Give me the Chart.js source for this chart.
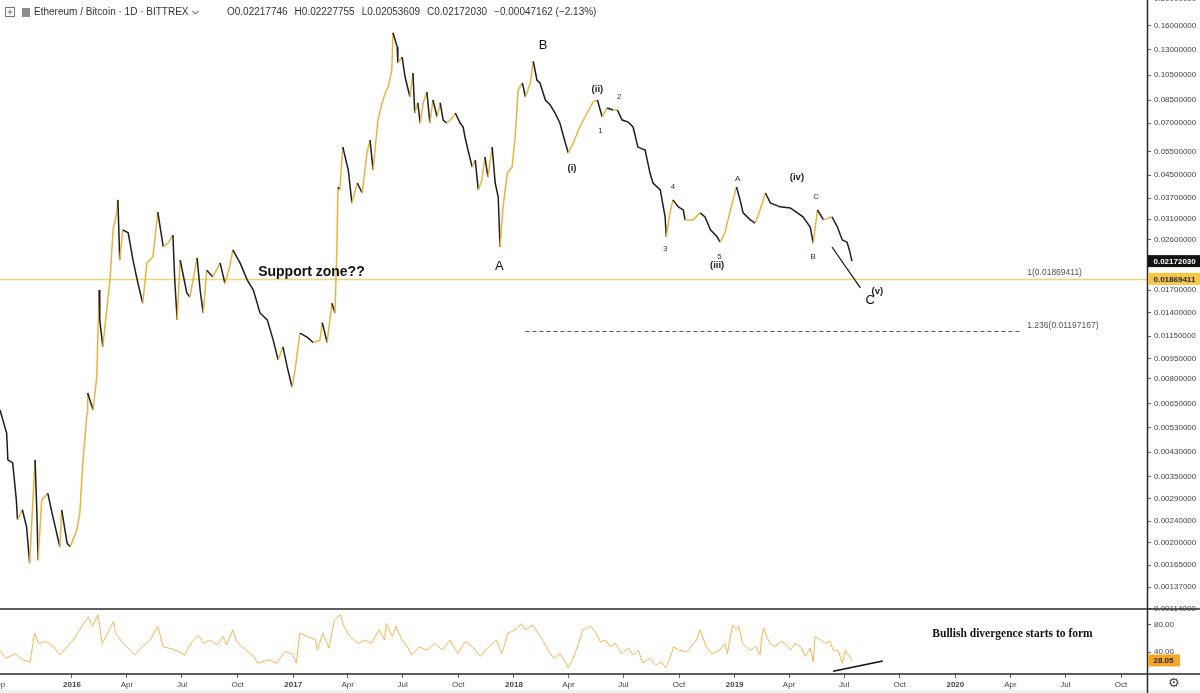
<!DOCTYPE html>
<html><head><meta charset="utf-8">
<script src="https://cdn.jsdelivr.net/npm/chart.js@4.4.1/dist/chart.umd.min.js"></script>
<style>html,body{margin:0;padding:0;background:#fff;}#wrap{position:relative;width:1200px;height:693px;}canvas{display:block}</style>
</head><body><div id="wrap"><canvas id="c"></canvas></div>
<script>
// ---------- DATA ----------
const priceDates = ['2015-09-04','2015-09-15','2015-09-17','2015-09-25','2015-10-01','2015-10-03','2015-10-11','2015-10-18','2015-10-23','2015-11-01','2015-11-04','2015-11-06','2015-11-12','2015-11-22','2015-11-29','2015-12-12','2015-12-15','2015-12-24','2015-12-29',
'2016-01-09','2016-01-14','2016-01-19','2016-01-26','2016-01-27','2016-02-05','2016-02-11','2016-02-15','2016-02-16','2016-02-21','2016-02-28','2016-03-04','2016-03-09','2016-03-15','2016-03-17','2016-03-20','2016-03-25','2016-04-03','2016-04-11','2016-04-18','2016-04-27','2016-05-04','2016-05-14','2016-05-22','2016-05-31','2016-06-08','2016-06-16','2016-06-19','2016-06-23','2016-06-28','2016-07-09','2016-07-14','2016-07-26','2016-07-31','2016-08-05','2016-08-11','2016-08-21','2016-09-02','2016-09-10','2016-09-18','2016-09-23','2016-10-05','2016-10-17','2016-10-27','2016-11-07','2016-11-19','2016-11-29','2016-12-07','2016-12-15','2016-12-22','2016-12-30',
'2017-01-04','2017-01-12','2017-01-24','2017-02-03','2017-02-14','2017-02-18','2017-02-26','2017-03-06','2017-03-11','2017-03-14','2017-03-16','2017-03-19','2017-03-24','2017-04-02','2017-04-08','2017-04-17','2017-04-25','2017-05-03','2017-05-08','2017-05-13','2017-05-21','2017-05-28','2017-06-02','2017-06-07','2017-06-13',
'2017-06-15','2017-06-22','2017-06-23','2017-06-30','2017-07-05','2017-07-13','2017-07-18','2017-07-21','2017-07-26','2017-07-30','2017-08-04','2017-08-10','2017-08-15','2017-08-20','2017-08-27','2017-09-01','2017-09-06','2017-09-12','2017-09-21','2017-09-26','2017-10-04','2017-10-09','2017-10-12','2017-10-17','2017-10-24','2017-10-29','2017-11-03','2017-11-09','2017-11-14','2017-11-19','2017-11-26','2017-12-01','2017-12-06','2017-12-09','2017-12-14','2017-12-21','2017-12-29',
'2018-01-03','2018-01-08','2018-01-15','2018-01-20','2018-01-28','2018-02-02','2018-02-08','2018-02-13','2018-02-22','2018-03-02','2018-03-10','2018-03-18','2018-03-27','2018-04-01','2018-04-09','2018-04-20','2018-05-02','2018-05-12','2018-05-19','2018-05-27','2018-06-04','2018-06-14','2018-06-21','2018-06-29','2018-07-09','2018-07-17','2018-07-25','2018-08-06','2018-08-14','2018-08-19','2018-08-31','2018-09-08','2018-09-10','2018-09-16','2018-09-21','2018-09-30','2018-10-08','2018-10-11','2018-10-24','2018-11-05','2018-11-13','2018-11-22','2018-12-03','2018-12-08','2018-12-16','2018-12-21','2018-12-28',
'2019-01-04','2019-01-10','2019-01-15','2019-01-27','2019-02-04','2019-02-12','2019-02-21','2019-03-01','2019-03-17','2019-04-03','2019-04-15','2019-04-24','2019-05-06','2019-05-11','2019-05-18','2019-05-28','2019-06-11','2019-06-20','2019-06-28','2019-07-06','2019-07-11','2019-07-14'];

const priceCloses = [0.00615,0.00506,0.00403,0.00393,0.00287,0.00242,0.00264,0.00228,0.00168,0.00403,0.00257,0.00172,0.00287,0.00304,0.00257,0.00193,0.00264,0.00199,0.00193,
0.00222,0.00257,0.00393,0.00600,0.00710,0.00615,0.00814,0.0170,0.0132,0.0105,0.0147,0.0185,0.0283,0.0327,0.0365,0.0219,0.0283,0.0276,0.0219,0.0185,0.0152,0.0214,0.0225,0.0329,0.0245,0.0253,0.0271,0.0185,0.0132,0.0219,0.0166,0.0160,0.0223,0.0170,0.0140,0.0201,0.0190,0.0214,0.0180,0.0207,0.0239,0.0214,0.0185,0.0170,0.0140,0.0132,0.0111,0.00940,0.0105,0.00886,0.00747,
0.00864,0.0118,0.0114,0.0109,0.0111,0.0129,0.0109,0.0152,0.0140,0.0233,0.0407,0.0397,0.0571,0.0470,0.0356,0.0421,0.0387,0.0543,0.0606,0.0470,0.0718,0.0830,0.0903,0.0950,0.1097,
0.1505,0.1333,0.1164,0.1225,0.1034,0.0873,0.1070,0.0762,0.0830,0.0700,0.0830,0.0911,0.0700,0.0851,0.0737,0.0830,0.0718,0.0700,0.0731,0.0762,0.0700,0.0677,0.0622,0.0557,0.0482,0.0512,0.0397,0.0432,0.0525,0.0443,0.0571,0.0421,0.0374,0.0245,0.0344,0.0458,0.0482,
0.0622,0.0926,0.0983,0.0873,0.0983,0.1180,0.1008,0.0983,0.0851,0.0816,0.0762,0.0700,0.0591,0.0543,0.0591,0.0677,0.0762,0.0837,0.0851,0.0737,0.0795,0.0782,0.0782,0.0718,0.0706,0.0677,0.0571,0.0557,0.0458,0.0421,0.0397,0.0316,0.0267,0.0327,0.0365,0.0344,0.0335,0.0308,0.0308,0.0327,0.0316,0.0283,0.0267,0.0255,0.0276,0.0308,0.0356,
0.0407,0.0365,0.0327,0.0308,0.0300,0.0335,0.0387,0.0356,0.0344,0.0341,0.0327,0.0316,0.0290,0.0253,0.0335,0.0308,0.0316,0.0290,0.0260,0.0255,0.0233,0.02172030];

const rsiDates = ['2015-09-04','2015-09-13','2015-09-29','2015-10-11','2015-10-24','2015-10-31','2015-11-07','2015-11-19','2015-12-02','2015-12-12',
'2016-01-03','2016-01-19','2016-01-28','2016-02-04','2016-02-13','2016-02-20','2016-03-10','2016-03-13','2016-03-26','2016-04-14','2016-04-26','2016-05-09','2016-05-22','2016-05-31','2016-06-10','2016-06-26','2016-07-05','2016-07-18','2016-07-28','2016-08-06','2016-08-16','2016-08-28','2016-09-07','2016-09-13','2016-09-23','2016-09-29','2016-10-15','2016-10-28','2016-11-03','2016-11-22','2016-12-05','2016-12-18','2016-12-30',
'2017-01-06','2017-01-12','2017-01-25','2017-02-07','2017-02-10','2017-02-19','2017-03-01','2017-03-10','2017-03-20','2017-03-26','2017-04-05','2017-04-18','2017-04-30','2017-05-10','2017-05-23','2017-06-01','2017-06-04','2017-06-14','2017-06-20','2017-06-30','2017-07-09','2017-07-16','2017-07-28','2017-08-10','2017-08-23','2017-09-05','2017-09-17','2017-09-30','2017-10-13','2017-10-26','2017-11-07','2017-11-20','2017-12-03','2017-12-12','2017-12-22',
'2018-01-04','2018-01-13','2018-01-20','2018-02-01','2018-02-14','2018-02-27','2018-03-08','2018-03-18','2018-03-27','2018-04-01','2018-04-09','2018-04-18','2018-04-25','2018-05-08','2018-05-17','2018-05-24','2018-06-02','2018-06-09','2018-06-18','2018-06-28','2018-07-10','2018-07-17','2018-07-26','2018-08-02','2018-08-14','2018-08-24','2018-09-02','2018-09-09','2018-09-15','2018-09-22','2018-10-01','2018-10-14','2018-10-30','2018-11-05','2018-11-15','2018-11-24','2018-12-07','2018-12-16','2018-12-20','2018-12-26','2018-12-29',
'2019-01-04','2019-01-08','2019-01-14','2019-01-27','2019-02-05','2019-02-12','2019-02-15','2019-02-18','2019-02-21','2019-02-28','2019-03-09','2019-03-19','2019-03-26','2019-04-03','2019-04-11','2019-04-20','2019-04-28','2019-05-06','2019-05-11','2019-05-14','2019-05-23','2019-05-31','2019-06-08','2019-06-13','2019-06-21','2019-06-28','2019-07-03','2019-07-08','2019-07-14'];

const rsiValues = [43,31,38,29,26,68,53,56,48,36,
58,80,92,78,95,53,85,68,53,36,48,58,78,48,46,41,36,56,65,53,58,51,63,51,73,56,43,34,24,29,24,41,38,
24,68,63,58,43,68,46,87,95,78,63,53,58,53,73,58,82,63,78,58,48,36,48,43,53,43,58,38,56,46,34,48,58,38,68,
73,82,73,80,63,43,31,38,26,17,31,53,73,78,68,55,58,48,53,38,46,36,43,24,31,21,26,17,29,48,43,41,58,73,48,38,43,53,38,68,80,
73,78,53,43,48,36,63,75,68,53,48,56,53,43,53,48,34,46,26,63,58,53,56,43,43,24,43,36,28.05];

const timeTickDates = ['2015-09-01','2016-01-01','2016-04-01','2016-07-01','2016-10-01','2017-01-01','2017-04-01','2017-07-01','2017-10-01','2018-01-01','2018-04-01','2018-07-01','2018-10-01','2019-01-01','2019-04-01','2019-07-01','2019-10-01','2020-01-01','2020-04-01','2020-07-01','2020-10-01'];
const timeTickLabels = ['Sep','2016','Apr','Jul','Oct','2017','Apr','Jul','Oct','2018','Apr','Jul','Oct','2019','Apr','Jul','Oct','2020','Apr','Jul','Oct'];
const priceTicks = [0.2,0.16,0.13,0.105,0.085,0.07,0.055,0.045,0.037,0.031,0.026,0.017,0.014,0.0115,0.0095,0.008,0.0065,0.0053,0.0043,0.0035,0.0029,0.0024,0.002,0.00165,0.00137,0.00114];
const rsiTicks = [80,40];

const lastClose = 0.02172030;
const lastRsi = 28.05;
const fibLevels = [{ratio:'1', price:0.01869411}, {ratio:'1.236', price:0.01197167}];

const headerTitle = 'Ethereum / Bitcoin · 1D · BITTREX';
const headerOHLC = ['O0.02217746','H0.02227755','L0.02053609','C0.02172030','\u22120.00047162 (\u22122.13%)'];

// annotations (anchored in data units)
const waveLabels = [
  {t:'Support zone??', d:'2016-11-04', p:0.0198, kind:'big-bold', align:'left'},
  {t:'A', d:'2017-12-08', p:0.02085, kind:'big'},
  {t:'B', d:'2018-02-18', p:0.1356, kind:'big'},
  {t:'(i)', d:'2018-04-07', p:0.0478, kind:'paren'},
  {t:'(ii)', d:'2018-05-19', p:0.0934, kind:'paren'},
  {t:'1', d:'2018-05-24', p:0.0654, kind:'small'},
  {t:'2', d:'2018-06-24', p:0.0873, kind:'small'},
  {t:'3', d:'2018-09-08', p:0.0241, kind:'small'},
  {t:'4', d:'2018-09-21', p:0.0407, kind:'small'},
  {t:'5', d:'2018-12-07', p:0.0226, kind:'small'},
  {t:'(iii)', d:'2018-12-03', p:0.0209, kind:'paren'},
  {t:'A', d:'2019-01-06', p:0.0438, kind:'small'},
  {t:'(iv)', d:'2019-04-14', p:0.0442, kind:'paren'},
  {t:'C', d:'2019-05-16', p:0.0375, kind:'small'},
  {t:'B', d:'2019-05-11', p:0.0225, kind:'small'},
  {t:'(v)', d:'2019-08-25', p:0.01677, kind:'paren'},
  {t:'C', d:'2019-08-13', p:0.01563, kind:'big'}
];
const waveLine = {d0:'2019-06-11', p0:0.02448, d1:'2019-07-28', p1:0.01730};
const fibDashStart = '2018-01-20', fibDashEnd = '2020-04-19', fibLabelDate = '2020-04-29';
const divergenceLine = {d0:'2019-06-13', r0:12.2, d1:'2019-09-03', r1:27.3};
const divergenceNote = {t:'Bullish divergence starts to form', d:'2019-11-24', r:66.8};
const axisStart = '2015-09-04', axisEnd = '2020-11-13';

// ---------- CHART ----------
const dayOf = s => { const [Y,M,D] = s.split('-').map(Number); return (Date.UTC(Y,M-1,D) - Date.UTC(2016,0,1)) / 86400000; };
const SANS = '"Liberation Sans", Arial, sans-serif';
const GOLD = '#e8b341', DARK = '#1e1e1e';

const overlay = {
  id: 'overlay',
  beforeDatasetsDraw(chart) {
    const {ctx, chartArea: a, scales: {x, y}} = chart;
    ctx.save();
    const fy = Math.round(y.getPixelForValue(fibLevels[0].price)) + 0.5;
    ctx.strokeStyle = '#f2d37a'; ctx.lineWidth = 1.3;
    ctx.beginPath(); ctx.moveTo(a.left, fy); ctx.lineTo(a.right, fy); ctx.stroke();
    const dy = Math.round(y.getPixelForValue(fibLevels[1].price)) + 0.5;
    ctx.strokeStyle = '#555'; ctx.lineWidth = 1; ctx.setLineDash([4, 3]);
    ctx.beginPath(); ctx.moveTo(x.getPixelForValue(dayOf(fibDashStart)), dy); ctx.lineTo(x.getPixelForValue(dayOf(fibDashEnd)), dy); ctx.stroke();
    ctx.restore();
  },
  afterDatasetsDraw(chart) {
    const {ctx, scales: {x, y, rsi}} = chart;
    ctx.save();
    ctx.textBaseline = 'middle';
    for (const w of waveLabels) {
      const px = x.getPixelForValue(dayOf(w.d)), py = y.getPixelForValue(w.p);
      ctx.textAlign = w.align || 'center';
      ctx.fillStyle = '#111';
      if (w.kind === 'big-bold') ctx.font = 'bold 14px ' + SANS;
      else if (w.kind === 'big') ctx.font = '13px ' + SANS;
      else if (w.kind === 'paren') { ctx.font = 'bold 9.5px ' + SANS; ctx.fillStyle = '#222'; }
      else { ctx.font = '8px ' + SANS; ctx.fillStyle = '#333'; }
      ctx.fillText(w.t, px, py);
    }
    ctx.font = '8.5px ' + SANS; ctx.fillStyle = '#555'; ctx.textAlign = 'left';
    const lx = x.getPixelForValue(dayOf(fibLabelDate));
    for (const f of fibLevels) {
      ctx.fillText(f.ratio + '(' + f.price.toFixed(8) + ')', lx, y.getPixelForValue(f.price) - 6);
    }
    ctx.strokeStyle = '#111'; ctx.lineWidth = 1.2;
    ctx.beginPath();
    ctx.moveTo(x.getPixelForValue(dayOf(waveLine.d0)), y.getPixelForValue(waveLine.p0));
    ctx.lineTo(x.getPixelForValue(dayOf(waveLine.d1)), y.getPixelForValue(waveLine.p1));
    ctx.stroke();
    ctx.lineWidth = 1.6;
    ctx.beginPath();
    ctx.moveTo(x.getPixelForValue(dayOf(divergenceLine.d0)), rsi.getPixelForValue(divergenceLine.r0));
    ctx.lineTo(x.getPixelForValue(dayOf(divergenceLine.d1)), rsi.getPixelForValue(divergenceLine.r1));
    ctx.stroke();
    ctx.font = 'bold 11.5px "Liberation Serif", "Times New Roman", serif';
    ctx.fillStyle = '#111'; ctx.textAlign = 'left';
    ctx.fillText(divergenceNote.t, x.getPixelForValue(dayOf(divergenceNote.d)), rsi.getPixelForValue(divergenceNote.r));
    ctx.restore();
  },
  afterDraw(chart) {
    const {ctx, chartArea: a, scales: {x, y, rsi}, width: W, height: H} = chart;
    ctx.save();
    ctx.fillStyle = '#eef0f3'; ctx.fillRect(0, H - 3, W, 3);
    ctx.strokeStyle = '#2a2a2a'; ctx.lineWidth = 1.5;
    const r = Math.round(a.right) + 0.5;
    ctx.beginPath();
    ctx.moveTo(0, rsi.top); ctx.lineTo(W, rsi.top);
    ctx.moveTo(0, x.top); ctx.lineTo(W, x.top);
    ctx.moveTo(r, 0); ctx.lineTo(r, H);
    ctx.stroke();
    const tag = (yy, txt, bg, fg, w) => {
      ctx.fillStyle = bg; ctx.fillRect(r + 0.5, yy - 6, w, 12);
      ctx.fillStyle = fg; ctx.font = 'bold 8px ' + SANS; ctx.textAlign = 'left'; ctx.textBaseline = 'middle';
      ctx.fillText(txt, r + 6, yy + 0.5);
    };
    tag(y.getPixelForValue(lastClose), lastClose.toFixed(8), '#111', '#fff', W - r);
    tag(y.getPixelForValue(fibLevels[0].price), fibLevels[0].price.toFixed(8), '#f7c744', '#222', W - r);
    tag(rsi.getPixelForValue(lastRsi), lastRsi.toFixed(2), '#f5a623', '#222', 32);
    ctx.fillStyle = '#444'; ctx.font = '13px "DejaVu Sans", sans-serif'; ctx.textAlign = 'center';
    ctx.fillText('\u2699', (r + W) / 2, (x.top + H) / 2);
    ctx.strokeStyle = '#777'; ctx.lineWidth = 1;
    ctx.strokeRect(5.5, 7.5, 9, 9);
    ctx.beginPath(); ctx.moveTo(7.5, 12); ctx.lineTo(12.5, 12); ctx.moveTo(10, 9.5); ctx.lineTo(10, 14.5); ctx.stroke();
    ctx.fillStyle = '#8c8c8c'; ctx.fillRect(22, 8, 8, 9);
    ctx.fillStyle = '#333'; ctx.font = '10px ' + SANS; ctx.textAlign = 'left'; ctx.textBaseline = 'middle';
    ctx.fillText(headerTitle, 34, 12.5);
    let hx = 34 + ctx.measureText(headerTitle).width + 4;
    ctx.beginPath(); ctx.moveTo(hx, 11); ctx.lineTo(hx + 3, 14); ctx.lineTo(hx + 6, 11); ctx.strokeStyle = '#333'; ctx.stroke();
    hx = 227;
    for (const s of headerOHLC) { ctx.fillText(s, hx, 12.5); hx += ctx.measureText(s).width + 7; }
    ctx.restore();
  }
};

const tickDays = timeTickDates.map(dayOf);
const tickFont = {family: SANS, size: 8};

new Chart(document.getElementById('c'), {
  type: 'line',
  data: {
    datasets: [
      {
        label: 'ETHBTC',
        data: priceDates.map((d, i) => ({x: dayOf(d), y: priceCloses[i]})),
        yAxisID: 'y', borderColor: DARK, borderWidth: 1.5, pointRadius: 0, tension: 0,
        segment: { borderColor: c => (c.p1.parsed.y >= c.p0.parsed.y ? GOLD : DARK) }
      },
      {
        label: 'RSI',
        data: rsiDates.map((d, i) => ({x: dayOf(d), y: rsiValues[i]})),
        yAxisID: 'rsi', borderColor: '#f6b352', borderWidth: 1, pointRadius: 0, tension: 0
      }
    ]
  },
  options: {
    responsive: true, maintainAspectRatio: false, animation: false,
    layout: { padding: 0 },
    plugins: { legend: {display: false}, tooltip: {enabled: false}, title: {display: false} },
    scales: {
      x: {
        type: 'linear', position: 'bottom', min: dayOf(axisStart), max: dayOf(axisEnd),
        afterFit(s) { s.height = 19; s.paddingLeft = 0; s.paddingRight = 0; },
        afterBuildTicks(s) { s.ticks = tickDays.map(v => ({value: v})); },
        ticks: {
          autoSkip: false, maxRotation: 0, padding: 2, color: '#444',
          font: c => ({family: SANS, size: 8, weight: /^\d{4}$/.test(timeTickLabels[c.index] || '') ? 'bold' : 'normal'}),
          callback: (v, i) => timeTickLabels[i]
        },
        grid: { drawOnChartArea: false, drawTicks: true, tickLength: 4, color: '#666' },
        border: { display: false }
      },
      y: {
        type: 'logarithmic', position: 'right', stack: 'panes', stackWeight: 609,
        min: 0.0011386, max: 0.1986,
        afterFit(s) { s.width = 53; s.paddingTop = 0; s.paddingBottom = 0; },
        afterBuildTicks(s) { s.ticks = priceTicks.map(v => ({value: v})); },
        ticks: { autoSkip: false, padding: 3, color: '#444', font: tickFont, callback: v => Number(v).toFixed(8) },
        grid: { drawOnChartArea: false, drawTicks: true, tickLength: 4, color: '#666' },
        border: { display: false }
      },
      rsi: {
        type: 'linear', position: 'right', stack: 'panes', stackWeight: 65,
        min: 8.2, max: 103.4,
        afterFit(s) { s.width = 53; s.paddingTop = 0; s.paddingBottom = 0; },
        afterBuildTicks(s) { s.ticks = rsiTicks.map(v => ({value: v})); },
        ticks: { autoSkip: false, padding: 3, color: '#444', font: tickFont, callback: v => Number(v).toFixed(2) },
        grid: { drawOnChartArea: false, drawTicks: true, tickLength: 4, color: '#666' },
        border: { display: false }
      }
    }
  },
  plugins: [overlay]
});
</script></body></html>
